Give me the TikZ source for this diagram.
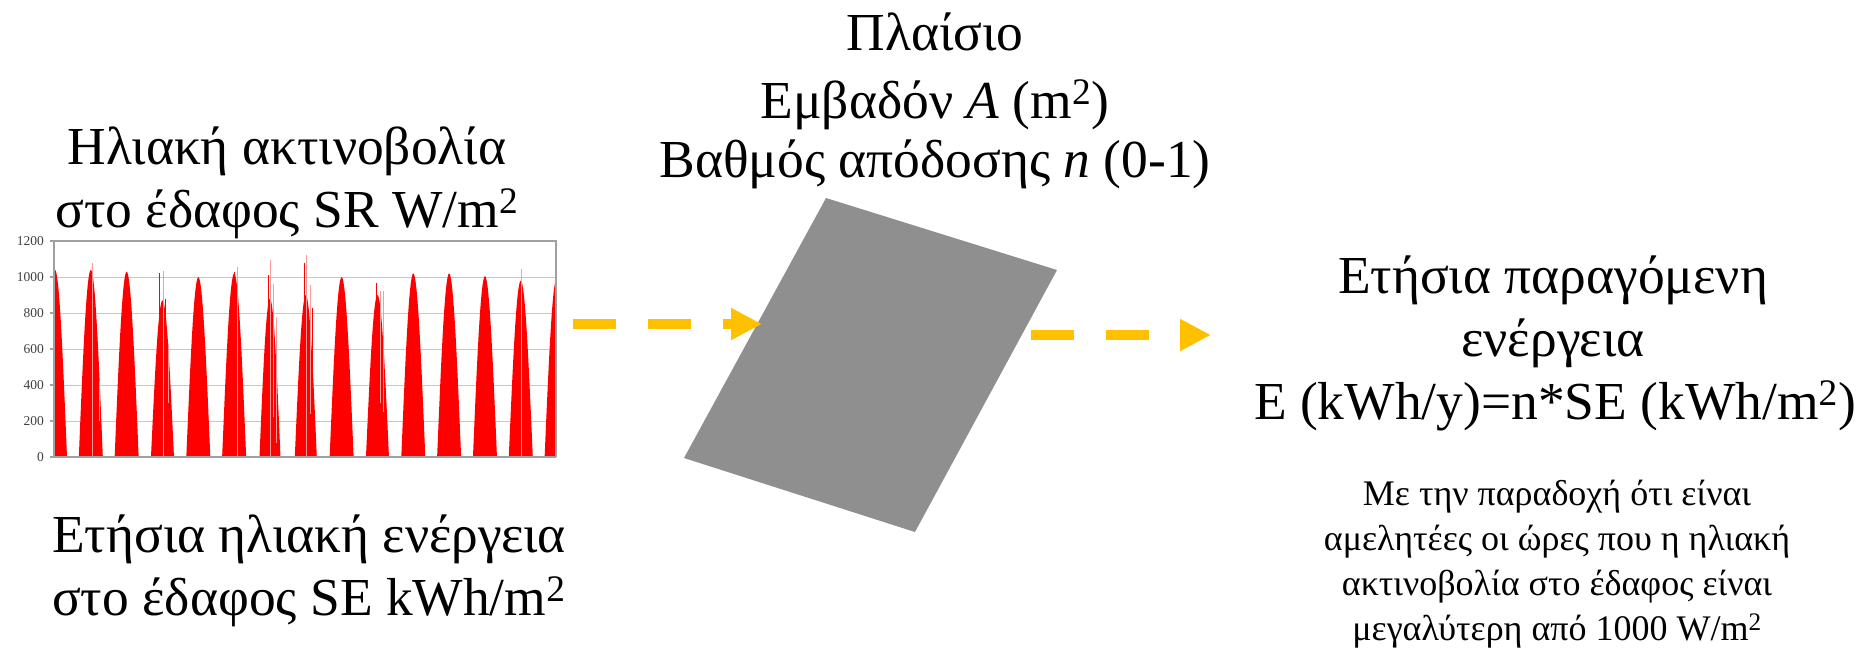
\documentclass[tikz,border=0pt]{standalone}
\usepackage{graphicx}
\usepackage{fontspec}
\setmainfont{Liberation Serif}
\usetikzlibrary{arrows.meta}
\definecolor{arrowyellow}{HTML}{FFC000}
\definecolor{panelgray}{HTML}{8F8F8F}
\definecolor{gridgray}{HTML}{C8C8C8}
\definecolor{axisgray}{HTML}{A0A0A0}
\definecolor{labelgray}{HTML}{404040}
\definecolor{sunred}{HTML}{FF0000}
\definecolor{sunpink}{HTML}{FF9A9A}
\newcommand{\bigline}[1]{\scalebox{1.485}{\fontsize{36}{42}\selectfont #1}}
\begin{document}
\begin{tikzpicture}[x=1pt,y=-1pt,
  bigtext/.style={anchor=base, inner sep=0pt},
  smalltext/.style={anchor=base, inner sep=0pt, font=\fontsize{36}{46}\selectfont},
  axlabel/.style={anchor=east, inner sep=0pt, font=\fontsize{13.5}{15}\selectfont, text=labelgray},
  flow/.style={arrowyellow, line width=10pt, dash pattern=on 43pt off 32pt, -{Triangle[length=31pt,width=30pt]}},
  gridline/.style={gridgray, line width=1pt},
  axisline/.style={axisgray, line width=1.2pt},
  spike/.style={sunred, line width=1pt},
  pinkspike/.style={sunpink, line width=1pt},
]
\useasboundingbox (0,0) rectangle (1864,649);

% ---------- chart ----------
\foreach \v in {200,400,...,1000}
  \draw[gridline] (54,{457-0.18*\v}) -- (556,{457-0.18*\v});
\foreach \v in {0,200,...,1200} {
  \node[axlabel] (lab\v) at (44,{457-0.18*\v}) {\v};
  \draw[axisline] (50,{457-0.18*\v}) -- (54,{457-0.18*\v});
}
\begin{scope}
  \clip (54,240) rectangle (556,457);
  \foreach \i/\v/\w in {0/1040/12, 1/1040/12, 2/1030/12, 3/870/11.5, 4/1000/12,
                        5/1020/12, 6/880/10.5, 7/900/11, 8/1000/12, 9/900/11.5,
                        10/1020/12, 11/1020/12, 12/1005/12, 13/980/12, 14/990/12}
    \fill[sunred] plot[domain=-1:1, samples=31]
      ({55+35.83*\i+\w*\x},{457-0.18*\v*cos(90*\x)}) -- cycle;
  % cloudy-day spikes
  \draw[pinkspike] (92,457) -- (92,{457-0.18*1080});
  \draw[pinkspike] (99,{457-0.18*200}) -- (99,{457-0.18*420});
  \draw[spike] (159.5,457) -- (159.5,{457-0.18*1025});
  \draw[pinkspike] (163,457) -- (163,{457-0.18*1035});
  \draw[spike] (165,457) -- (165,{457-0.18*880});
  \draw[pinkspike] (168,{457-0.18*300}) -- (168,{457-0.18*630});
  \draw[pinkspike] (237,457) -- (237,{457-0.18*1055});
  \draw[spike] (234,457) -- (234,{457-0.18*1030});
  \draw[spike] (268,457) -- (268,{457-0.18*1010});
  \draw[pinkspike] (270,457) -- (270,{457-0.18*1095});
  \draw[pinkspike] (273,{457-0.18*220}) -- (273,{457-0.18*960});
  \draw[pinkspike] (276,{457-0.18*80}) -- (276,{457-0.18*780});
  \draw[spike] (304.5,457) -- (304.5,{457-0.18*1080});
  \draw[pinkspike] (306,457) -- (306,{457-0.18*1120});
  \draw[pinkspike] (310,{457-0.18*240}) -- (310,{457-0.18*955});
  \draw[spike] (312,457) -- (312,{457-0.18*830});
  \draw[spike] (376,457) -- (376,{457-0.18*965});
  \draw[pinkspike] (380,{457-0.18*300}) -- (380,{457-0.18*925});
  \draw[pinkspike] (383,{457-0.18*250}) -- (383,{457-0.18*920});
  \draw[pinkspike] (521,457) -- (521,{457-0.18*1045});
\end{scope}
\draw[axisline] (54,{457-0.18*1200}) -- (556,{457-0.18*1200}) -- (556,457);
\draw[axisline] (54,{457-0.18*1200}) -- (54,457) -- (556,457);

% ---------- left texts ----------
\node[bigtext] (sr1) at (287,164) {\bigline{Ηλιακή ακτινοβολία}};
\node[bigtext] (sr2) at (287,227) {\bigline{στο έδαφος SR W/m\textsuperscript{2}}};
\node[bigtext] (se1) at (309,552) {\bigline{Ετήσια ηλιακή ενέργεια}};
\node[bigtext] (se2) at (309,615) {\bigline{στο έδαφος SE kWh/m\textsuperscript{2}}};

% ---------- panel ----------
\coordinate (pT) at (826,198);
\coordinate (pR) at (1057,270);
\coordinate (pB) at (915,532);
\coordinate (pL) at (684,458);
\fill[panelgray] (pT) -- (pR) -- (pB) -- (pL) -- cycle;
\node[bigtext] (pl1) at (935,50) {\bigline{Πλαίσιο}};
\node[bigtext] (pl2) at (935,118) {\bigline{Εμβαδόν \textit{A} (m\textsuperscript{2})}};
\node[bigtext] (pl3) at (935,177) {\bigline{Βαθμός απόδοσης \textit{n} (0-1)}};

% ---------- right texts ----------
\node[bigtext] (e1) at (1553,293) {\bigline{Ετήσια παραγόμενη}};
\node[bigtext] (e2) at (1553,356) {\bigline{ενέργεια}};
\node[bigtext] (e3) at (1555,419) {\bigline{E (kWh/y)=n*SE (kWh/m\textsuperscript{2})}};
\node[smalltext] (n1) at (1557,505) {Με την παραδοχή ότι είναι};
\node[smalltext] (n2) at (1557,550) {αμελητέες οι ώρες που η ηλιακή};
\node[smalltext] (n3) at (1557,595) {ακτινοβολία στο έδαφος είναι};
\node[smalltext] (n4) at (1557,640) {μεγαλύτερη από 1000 W/m\textsuperscript{2}};

% ---------- arrows ----------
\coordinate (chartOut) at (573,324);
\coordinate (panelIn) at (762,324);
\coordinate (panelOut) at (1031,335);
\coordinate (resultIn) at (1211,335);
\draw[flow] (chartOut) -- (panelIn);
\draw[flow] (panelOut) -- (resultIn);
\end{tikzpicture}
\end{document}
